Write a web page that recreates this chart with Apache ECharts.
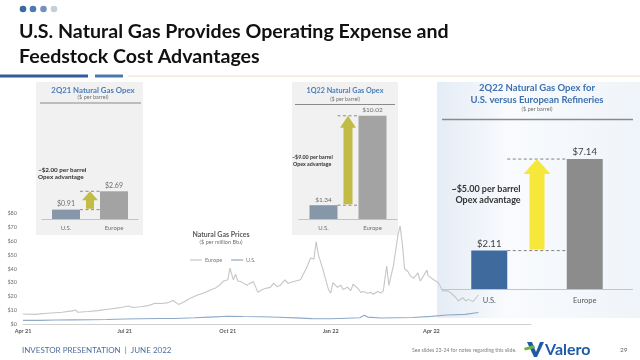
<!DOCTYPE html>
<html><head><meta charset="utf-8">
<script src="https://cdn.jsdelivr.net/npm/echarts@6/dist/echarts.min.js"></script>
<style>html,body{margin:0;padding:0;background:#fff}#c{width:640px;height:360px}</style>
</head><body><div id="c"></div>
<script>
// ---------- DATA ----------
const euDates = ['2021-04-01','2021-04-12','2021-04-23','2021-05-06','2021-05-15','2021-05-18','2021-05-20','2021-05-29','2021-06-07','2021-06-16','2021-06-22','2021-06-29','2021-07-04','2021-07-08','2021-07-15','2021-07-22','2021-07-28','2021-08-03','2021-08-09','2021-08-13','2021-08-18','2021-08-22','2021-08-28','2021-09-04','2021-09-09','2021-09-15','2021-09-20','2021-09-24','2021-09-27','2021-10-01','2021-10-03','2021-10-06','2021-10-08','2021-10-10','2021-10-12','2021-10-15','2021-10-18','2021-10-21','2021-10-24','2021-10-27','2021-10-28','2021-11-01','2021-11-05','2021-11-08','2021-11-11','2021-11-14','2021-11-17','2021-11-21','2021-11-24','2021-11-29','2021-12-05','2021-12-11','2021-12-14','2021-12-17','2021-12-19','2021-12-21','2021-12-25','2021-12-27','2021-12-30','2022-01-01','2022-01-03','2022-01-07','2022-01-10','2022-01-12','2022-01-16','2022-01-19','2022-01-21','2022-01-25','2022-01-28','2022-01-30','2022-02-03','2022-02-06','2022-02-08','2022-02-12','2022-02-15','2022-02-17','2022-02-20','2022-02-22','2022-02-26','2022-03-02','2022-03-04','2022-03-06','2022-03-08','2022-03-11','2022-03-13','2022-03-16','2022-03-20','2022-03-22','2022-03-28','2022-03-29','2022-04-03','2022-04-07','2022-04-11','2022-04-15','2022-04-18','2022-04-23','2022-04-25','2022-04-29','2022-05-02','2022-05-04','2022-05-08','2022-05-11','2022-05-13'];
const euPrices = [7.2,7.0,7.8,8.5,9.5,10.2,8.5,9.0,9.7,10.7,11.3,12.1,13.0,12.0,12.5,13.3,15.0,14.8,15.5,17.0,14.2,15.5,18.5,21.0,22.3,24.5,26.0,28.4,31.0,32.0,40.5,32.0,36.0,31.0,31.0,29.6,28.0,29.6,30.5,24.7,23.0,25.0,26.0,26.5,29.6,27.0,28.0,32.0,29.5,30.8,32.0,41.7,47.8,47.0,59.6,50.0,39.7,33.7,25.0,22.3,30.0,26.6,28.0,25.0,26.6,24.2,28.8,26.0,22.8,23.5,22.3,23.0,21.5,23.5,22.5,24.0,42.0,28.0,42.0,64.0,71.0,58.0,40.0,38.0,35.0,33.0,37.0,31.0,39.0,35.0,32.0,30.0,24.0,24.0,22.8,19.0,16.7,19.0,16.5,18.0,16.2,19.0,21.0];
const usDates = ['2021-04-01','2021-04-15','2021-05-01','2021-05-15','2021-06-01','2021-06-15','2021-07-01','2021-07-15','2021-08-01','2021-08-15','2021-09-01','2021-09-15','2021-10-01','2021-10-15','2021-11-01','2021-11-15','2021-12-01','2021-12-15','2022-01-01','2022-01-15','2022-01-27','2022-01-31','2022-02-03','2022-02-15','2022-03-01','2022-03-15','2022-04-01','2022-04-15','2022-05-01','2022-05-13'];
const usPrices = [2.6,2.6,2.9,3.0,3.1,3.3,3.6,3.8,4.0,4.0,4.5,5.0,5.6,5.4,5.2,4.9,4.4,3.9,3.8,4.2,4.5,6.3,5.0,4.3,4.5,4.7,5.5,6.5,7.0,8.3];
const xTickDates = ['2021-04-01','2021-07-01','2021-10-01','2022-01-01','2022-04-01'];
const xTickLabels = ['Apr 21','Jul 21','Oct 21','Jan 22','Apr 22'];
const axisStart = '2021-04-01';
const axisEnd = '2022-06-29';
const yTicks = [0,10,20,30,40,50,60,70,80];
const barCats = ['U.S.','Europe'];
const opex2Q21 = [0.91, 2.69];
const opex1Q22 = [1.34, 10.02];
const opex2Q22 = [2.11, 7.14];

// ---------- HELPERS ----------
const t0 = Date.parse(axisStart + 'T00:00:00Z');
const dayOf = s => (Date.parse(s + 'T00:00:00Z') - t0) / 864e5;
const pair = (ds, vs) => ds.map((d, i) => [dayOf(d), vs[i]]);
const F = 'Lato, "Noto Sans", sans-serif';

const chart = echarts.init(document.getElementById('c'), null, {renderer: 'canvas'});

function catAxis(idx, size, color, margin) {
  return {type: 'category', gridIndex: idx, data: barCats,
    axisLine: {show: true, lineStyle: {color: '#c4c4c4', width: 1}},
    axisTick: {show: false},
    axisLabel: {fontFamily: F, fontSize: size, color: color, margin: margin}};
}
function valAxis(idx, max) {
  return {type: 'value', gridIndex: idx, min: 0, max: max, show: false, splitLine: {show: false}};
}
function barSeries(idx, vals, colors, bw, lsize, lcolor) {
  return {type: 'bar', xAxisIndex: idx, yAxisIndex: idx, barWidth: bw,
    data: vals.map((v, i) => ({value: v, itemStyle: {color: colors[i]}})),
    label: {show: true, position: 'top', distance: 2, fontFamily: F, fontSize: lsize, color: lcolor,
      formatter: p => '$' + p.value.toFixed(2)}};
}

const option = {
  animation: false,
  backgroundColor: '#ffffff',
  title: [
    {text: 'Natural Gas Prices', subtext: '($ per million Btu)', left: 216, top: 226, textAlign: 'center', itemGap: 1,
      textStyle: {fontFamily: F, fontSize: 7, fontWeight: 'bold', color: '#595959'},
      subtextStyle: {fontFamily: F, fontSize: 5.5, color: '#707070'}}
  ],
  legend: {data: ['Europe', 'U.S.'], left: 185, top: 252, icon: 'rect', itemWidth: 12, itemHeight: 1.2, itemGap: 9,
    textStyle: {fontFamily: F, fontSize: 5.5, color: '#7a7a7a', padding: [0, 0, 0, -2]}},
  grid: [
    {left: 23, top: 213.5, width: 508, height: 110.5},
    {left: 42, top: 105.7, width: 96, height: 113.3},
    {left: 299, top: 105.7, width: 98, height: 113.3},
    {left: 441.5, top: 143.4, width: 191, height: 145.6}
  ],
  xAxis: [
    {type: 'value', gridIndex: 0, min: 0, max: dayOf(axisEnd),
      axisLine: {show: true, lineStyle: {color: '#d0d0d0', width: 1}},
      axisTick: {show: false}, splitLine: {show: false},
      axisLabel: {customValues: xTickDates.map(dayOf), fontFamily: F, fontSize: 5.5, fontWeight: 'bold', color: '#595959', margin: 4,
        formatter: v => { const i = xTickDates.map(dayOf).indexOf(v); return i >= 0 ? xTickLabels[i] : ''; }}},
    catAxis(1, 6, '#6e6e6e', 6),
    catAxis(2, 6, '#6e6e6e', 6),
    catAxis(3, 7.5, '#595959', 8)
  ],
  yAxis: [
    {type: 'value', gridIndex: 0, min: 0, max: 80, interval: 10,
      axisLine: {show: false}, axisTick: {show: false}, splitLine: {show: false},
      axisLabel: {customValues: yTicks, fontFamily: F, fontSize: 5.5, color: '#6e6e6e', margin: 6, formatter: v => '$' + v}},
    valAxis(1, 11), valAxis(2, 11), valAxis(3, 8)
  ],
  series: [
    {name: 'Europe', type: 'line', xAxisIndex: 0, yAxisIndex: 0, data: pair(euDates, euPrices), showSymbol: false,
      lineStyle: {color: '#c6c6c6', width: 1.1}, itemStyle: {color: '#c6c6c6'}, z: 1},
    {name: 'U.S.', type: 'line', xAxisIndex: 0, yAxisIndex: 0, data: pair(usDates, usPrices), showSymbol: false,
      lineStyle: {color: '#8fa9c9', width: 1.1}, itemStyle: {color: '#8fa9c9'}, z: 1},
    barSeries(1, opex2Q21, ['#8797aa', '#a3a3a3'], 28, 7, '#6e6e6e'),
    barSeries(2, opex1Q22, ['#8797aa', '#a3a3a3'], 28, 6.5, '#6e6e6e'),
    barSeries(3, opex2Q22, ['#3e6a9e', '#8c8c8c'], 36, 9.5, '#404040')
  ]
};
chart.setOption(option);

// ---------- ANNOTATIONS computed from data via the chart's scales ----------
function annot(k, vals, bw, sw, hw, hh, color, dashColor, dashW) {
  const p0 = chart.convertToPixel({xAxisIndex: k, yAxisIndex: k}, [0, vals[0]]);
  const p1 = chart.convertToPixel({xAxisIndex: k, yAxisIndex: k}, [1, vals[1]]);
  const xl = p0[0] + bw / 2, xr = p1[0] - bw / 2, cx = (p0[0] + p1[0]) / 2;
  const yU = p0[1], yE = p1[1];
  return [
    {type: 'line', z: 5, shape: {x1: xl, y1: yU, x2: xr, y2: yU}, style: {stroke: dashColor, lineWidth: dashW, lineDash: [3, 2.5]}},
    {type: 'line', z: 5, shape: {x1: xl, y1: yE, x2: xr, y2: yE}, style: {stroke: dashColor, lineWidth: dashW, lineDash: [3, 2.5]}},
    {type: 'polygon', z: 6, shape: {points: [[cx - sw, yU - 1], [cx + sw, yU - 1], [cx + sw, yE + hh], [cx + hw, yE + hh], [cx, yE], [cx - hw, yE + hh], [cx - sw, yE + hh]]},
      style: {fill: color}}
  ];
}
function txt(t, x, y, size, color, weight, align) {
  return {type: 'text', z: 7, style: {text: t, x: x, y: y, font: (weight || 'normal') + ' ' + size + 'px ' + F, fill: color,
    textAlign: align || 'left', textVerticalAlign: 'middle'}};
}

const g = [
  // panel backgrounds
  {type: 'rect', z: -1, shape: {x: 36, y: 82, width: 107, height: 153}, style: {fill: '#f1f1f1'}},
  {type: 'rect', z: -1, shape: {x: 292, y: 82, width: 106, height: 153}, style: {fill: '#f1f1f1'}},
  {type: 'rect', z: -1, shape: {x: 437, y: 82, width: 203, height: 236},
    style: {fill: new echarts.graphic.LinearGradient(0, 0, 1, 0, [{offset: 0, color: 'rgba(224,233,244,0.85)'}, {offset: 0.35, color: 'rgba(248,250,253,0.9)'}, {offset: 1, color: 'rgba(238,243,249,0.9)'}])}},
  // header
  {type: 'circle', shape: {cx: 23, cy: 9, r: 3.3}, style: {fill: '#3a69a3'}},
  {type: 'circle', shape: {cx: 33, cy: 9, r: 3.3}, style: {fill: '#4c7ab1'}},
  {type: 'circle', shape: {cx: 43.5, cy: 9, r: 3.3}, style: {fill: '#7192c0'}},
  {type: 'circle', shape: {cx: 54, cy: 9, r: 3.3}, style: {fill: '#c4cfdd'}},
  txt('U.S. Natural Gas Provides Operating Expense and', 19, 32, 19.6, '#111111', 'bold'),
  txt('Feedstock Cost Advantages', 19, 56.5, 19.6, '#111111', 'bold'),
  {type: 'rect', shape: {x: 0, y: 74.5, width: 88, height: 3}, style: {fill: '#2f5d97'}},
  {type: 'rect', shape: {x: 95, y: 74.5, width: 28, height: 3}, style: {fill: '#4a77ae'}},
  {type: 'rect', shape: {x: 128, y: 75.5, width: 512, height: 1.5}, style: {fill: '#f1ead9'}},
  // panel 1
  txt('2Q21 Natural Gas Opex', 93, 90, 7.8, '#4a7dbb', 'bold', 'center'),
  txt('($ per barrel)', 93, 97.5, 5.5, '#707070', 'normal', 'center'),
  {type: 'line', shape: {x1: 40, y1: 103, x2: 141, y2: 103}, style: {stroke: '#8a8a8a', lineWidth: 1.2}},
  txt('~$2.00 per barrel', 38, 169.5, 6.3, '#333333', 'bold'),
  txt('Opex advantage', 38, 177, 6.3, '#333333', 'bold'),
  // panel 2
  txt('1Q22 Natural Gas Opex', 345, 91, 7.2, '#4a7dbb', 'bold', 'center'),
  txt('($ per barrel)', 345, 99, 5.3, '#707070', 'normal', 'center'),
  {type: 'line', shape: {x1: 295, y1: 104.5, x2: 395, y2: 104.5}, style: {stroke: '#8a8a8a', lineWidth: 1.2}},
  txt('~$9.00 per barrel', 292, 157, 5.3, '#333333', 'bold'),
  txt('Opex advantage', 293, 164.5, 5.3, '#333333', 'bold'),
  // panel 3
  txt('2Q22 Natural Gas Opex for', 537, 87.5, 9.5, '#3d70ae', 'bold', 'center'),
  txt('U.S. versus European Refineries', 537, 100, 9.5, '#3d70ae', 'bold', 'center'),
  txt('($ per barrel)', 537, 109.5, 5.5, '#707070', 'normal', 'center'),
  {type: 'line', shape: {x1: 442, y1: 119.5, x2: 633, y2: 119.5}, style: {stroke: '#8a8a8a', lineWidth: 1.5}},
  txt('~$5.00 per barrel', 486, 189, 9, '#333333', 'bold', 'center'),
  txt('Opex advantage', 488, 200, 9, '#333333', 'bold', 'center'),
  // footer
  txt('INVESTOR PRESENTATION  |  JUNE 2022', 22, 350, 8, '#4d6f9b', 'normal'),
  txt('See slides 23-24 for notes regarding this slide.', 412, 350, 5.2, '#808080', 'normal'),
  {type: 'polygon', shape: {points: [[527, 342], [532, 342], [536, 352], [540, 342], [544, 342], [537, 357], [534, 357]]}, style: {fill: '#1f5aa6'}},
  {type: 'polygon', shape: {points: [[524, 348], [534, 345], [535, 348], [525, 350.5]]}, style: {fill: '#6db33f'}},
  txt('Valero', 545, 349.5, 16, '#1f5aa6', 'bold'),
  txt('29', 620, 350, 6.5, '#666666', 'normal')
];
g.push(...annot(1, opex2Q21, 28, 4, 8, 9, '#c2bc46', '#707070', 0.8));
g.push(...annot(2, opex1Q22, 28, 4.5, 8, 12, '#c2bc46', '#707070', 0.8));
g.push(...annot(3, opex2Q22, 36, 7.5, 13.5, 15, '#f5e83a', '#808080', 1));
chart.setOption({graphic: {elements: g}});
</script></body></html>
